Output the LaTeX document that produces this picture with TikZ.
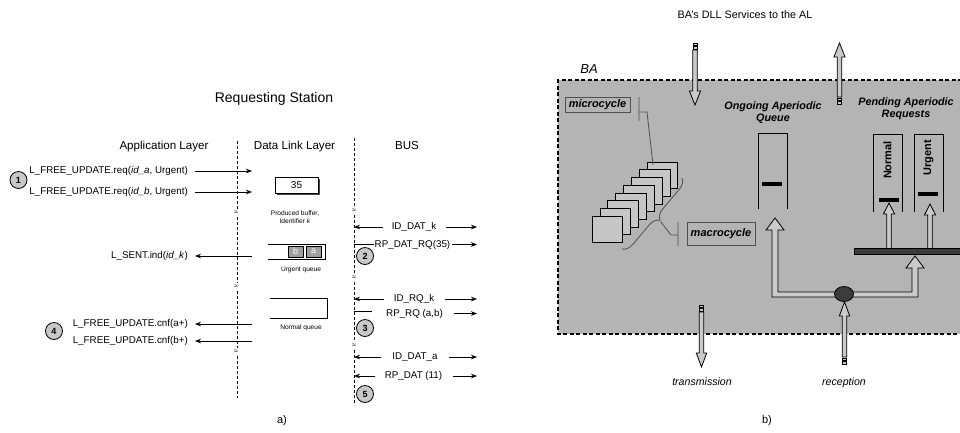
\documentclass[tikz,border=0pt]{standalone}
\usepackage{fontspec}
\setmainfont{Liberation Sans}
\usetikzlibrary{arrows.meta,decorations.pathreplacing,shapes.geometric}

\definecolor{bagray}{HTML}{B4B4B4}
\definecolor{stackgray}{HTML}{C6C6C6}
\definecolor{arrowgray}{HTML}{CACACA}
\definecolor{darkfill}{HTML}{3C3C3C}
\definecolor{stepgray}{HTML}{C8C8C8}
\definecolor{slotgray}{HTML}{A0A0A0}
\definecolor{wiregray}{HTML}{505050}

\newcommand\fsz[1]{\fontsize{#1}{#1}\selectfont}
% vertical block arrow: x, tail y, tip y, head-base y, shaft half width, head half width
\newcommand\vblock[6]{%
  \draw[blockarrow] ({#1-#5},#2) -- ({#1-#5},#4) -- ({#1-#6},#4) -- (#1,#3)
    -- ({#1+#6},#4) -- ({#1+#5},#4) -- ({#1+#5},#2) -- cycle;}
% two small tail segments behind a block arrow: x, tail y, direction (+1 down / -1 up)
\newcommand\tailmarks[3]{%
  \draw[blockarrow,line width=0.6pt] ({#1-2.2},{#2+#3*1}) rectangle ({#1+2.2},{#2+#3*3.4});
  \draw[blockarrow,line width=0.6pt] ({#1-2.2},{#2+#3*4.6}) rectangle ({#1+2.2},{#2+#3*7});}

\begin{document}
\begin{tikzpicture}[x=1pt,y=-1pt,
  hdr/.style={font=\fsz{11.6}, inner sep=0pt},
  msglbl/.style={font=\fsz{9.8}, inner sep=0pt},
  smallcap/.style={font=\fsz{6.6}, inner sep=0pt, align=center},
  msg/.style={line width=0.75pt, -{Stealth[length=6pt,width=4.6pt]}},
  plainline/.style={line width=0.75pt},
  layer/.style={line width=0.55pt, dash pattern=on 3pt off 2pt},
  brk/.style={font=\fsz{7}, inner sep=0.4pt, fill=white},
  stepno/.style={circle, draw, line width=0.8pt, fill=stepgray, minimum size=17pt,
    inner sep=0pt, font=\fsz{9}\bfseries},
  blockarrow/.style={draw=black, line width=0.8pt, fill=arrowgray, line join=miter},
  badash/.style={line width=1.1pt, dash pattern=on 4pt off 2.5pt},
  cyclebox/.style={draw=wiregray, line width=0.8pt, fill=bagray, inner sep=0pt,
    font=\fsz{11}\bfseries\itshape},
  frame/.style={draw=black, line width=0.8pt, fill=stackgray},
  qwall/.style={line width=0.8pt},
  qbar/.style={fill=black},
  slot/.style={draw, line width=0.7pt, fill=slotgray, minimum width=15pt, minimum height=11pt,
    inner sep=0pt, font=\fsz{9}, text=white},
  bhead/.style={font=\fsz{10.8}\bfseries\itshape, align=center, inner sep=0pt},
  vlabel/.style={font=\fsz{11}\bfseries, rotate=90, inner sep=0pt},
  ilabel/.style={font=\fsz{10.6}\itshape, inner sep=0pt},
  partlbl/.style={font=\fsz{11}, inner sep=0pt}
]
\useasboundingbox (0,0) rectangle (960,432);

%% ---------------- a) sequence of primitives ----------------
\node[font=\fsz{14}, inner sep=0pt] (station) at (274,99) {Requesting Station};
\node[hdr] (app) at (164,146) {Application Layer};
\node[hdr] (dll) at (294.5,146) {Data Link Layer};
\node[hdr] (bus) at (407,146) {BUS};

% layer boundaries, broken by time gaps
\draw[layer] (237,141) -- (237,209) (237,217) -- (237,283)
             (237,291) -- (237,348) (237,356) -- (237,398);
\draw[layer] (354,138) -- (354,207) (354,215) -- (354,274)
             (354,282) -- (354,342) (354,350) -- (354,405);
\node[brk] (g1) at (236,213) {≈};
\node[brk] (g2) at (236,287) {≈};
\node[brk] (g3) at (236,352) {≈};
\node[brk] (g4) at (354,211) {≈};
\node[brk] (g5) at (354,278) {≈};
\node[brk] (g6) at (354,346) {≈};

% application layer primitives
\coordinate (d1) at (252,171);
\coordinate (d2) at (252,192);
\coordinate (d3) at (195,256);
\coordinate (d4) at (195,324);
\coordinate (d5) at (195,341);
\node[msglbl, anchor=east] (req1) at (188,171) {L\_FREE\_UPDATE.req(\textit{id\_a}, Urgent)};
\node[msglbl, anchor=east] (req2) at (188,192) {L\_FREE\_UPDATE.req(\textit{id\_b}, Urgent)};
\node[msglbl, anchor=east] (sent) at (188,256) {L\_SENT.ind(\textit{id\_k})};
\node[msglbl, anchor=east] (cnf1) at (188,324) {L\_FREE\_UPDATE.cnf(a+)};
\node[msglbl, anchor=east] (cnf2) at (188,341) {L\_FREE\_UPDATE.cnf(b+)};
\draw[msg] ([xshift=7pt]req1.east) -- (d1);
\draw[msg] ([xshift=7pt]req2.east) -- (d2);
\draw[msg] (252,256) -- (d3);
\draw[msg] (252,324) -- (d4);
\draw[msg] (252,341) -- (d5);

% data link layer objects
\fill[gray!55!black] (277,179) rectangle (320,195);
\node[draw, line width=0.8pt, fill=white, minimum width=43pt, minimum height=16pt,
  inner sep=0pt, font=\fsz{10}] (buf) at (296.5,185) {35};
\node[smallcap] (bufcap) at (295,217) {Produced buffer,\\[1pt]Identifier \textit{k}};

\draw[qwall] (268,244) -- (325,244) -- (325,259) -- (268,259);
\node[slot] (slotb) at (295.5,251.5) {b};
\node[slot] (slota) at (313.5,251.5) {a};
\node[smallcap] (ucap) at (301,270) {Urgent queue};

\draw[qwall] (270,298) -- (327,298) -- (327,318) -- (270,318);
\node[smallcap] (ncap) at (301,328) {Normal queue};

% bus frames
\coordinate (e1) at (477,227);
\coordinate (e2) at (477,244.5);
\coordinate (e3) at (477,299);
\coordinate (e4) at (477,313.5);
\coordinate (e5) at (477,357);
\coordinate (e6) at (477,376);
\node[msglbl] (iddatk) at (414,227) {ID\_DAT\_k};
\draw[msg] ([xshift=-9pt]iddatk.west) -- (354,227);
\draw[msg] ([xshift=10pt]iddatk.east) -- (e1);

\node[msglbl] (rpdatrq) at (412.5,244.5) {RP\_DAT\_RQ(35)};
\draw[plainline] (354,244.5) -- ([xshift=-1pt]rpdatrq.west);
\draw[msg] ([xshift=1.5pt]rpdatrq.east) -- (e2);

\node[msglbl] (idrqk) at (414,299) {ID\_RQ\_k};
\draw[msg] ([xshift=-10pt]idrqk.west) -- (354,299);
\draw[msg] ([xshift=11pt]idrqk.east) -- (e3);

\node[msglbl] (rprq) at (414.5,313.5) {RP\_RQ (a,b)};
\draw[plainline] (354,311) -- (372,311);
\draw[msg] ([xshift=11pt]rprq.east) -- (e4);

\node[msglbl] (iddata) at (415,357) {ID\_DAT\_a};
\draw[msg] ([xshift=-11pt]iddata.west) -- (354,357);
\draw[msg] ([xshift=11pt]iddata.east) -- (e5);

\node[msglbl] (rpdat) at (413.5,376) {RP\_DAT (11)};
\draw[msg] ([xshift=-10pt]rpdat.west) -- (354,376);
\draw[msg] ([xshift=11pt]rpdat.east) -- (e6);

% step numbers
\node[stepno] (s1) at (18.5,180) {1};
\node[stepno] (s2) at (365,256) {2};
\node[stepno] (s3) at (365,328) {3};
\node[stepno] (s4) at (54,331) {4};
\node[stepno] (s5) at (365,394) {5};

\node[partlbl] (pa) at (282,421) {a)};

%% ---------------- b) BA services ----------------
\node[font=\fsz{10.8}, inner sep=0pt] (svc) at (745,15) {BA's DLL Services to the AL};

\fill[bagray] (558,80) rectangle (975,334);
\draw[badash] (975,80) -- (558,80) -- (558,334) -- (975,334);
\node[font=\fsz{13}\itshape, inner sep=0pt] (ba) at (589,69) {BA};

% micro / macro cycle
\node[cyclebox, minimum width=65pt, minimum height=15pt] (micro) at (597.5,104.5) {microcycle};
\node[cyclebox, minimum width=68pt, minimum height=23pt] (macro) at (721,233.5) {macrocycle};

\foreach \i in {7,6,...,0}{
  \draw[frame] ({592+7.9*\i},{216-7.7*\i}) rectangle ++(30.5,26.5);
}
\coordinate (stacktop) at (653,165);
\draw[wiregray, line width=0.8pt] (639,97) -- (639,121) (639,112) -- (647,112) -- (stacktop);
\draw[wiregray, line width=0.8pt, decorate, decoration={brace, amplitude=10.5pt}]
  (682,178) -- (622,249);
\draw[wiregray, line width=0.8pt] (660.5,221.5) -- (671,235) -- (678,235) (678,222) -- (678,246);

% aperiodic queues
\node[bhead] (ongo) at (773,112.5) {Ongoing Aperiodic\\[1.5pt]Queue};
\node[bhead] (pend) at (906,108.5) {Pending Aperiodic\\[1.5pt]Requests};

\draw[qwall] (758,209) -- (758,133) -- (787,133) -- (787,209);
\fill[qbar] (762,181.5) rectangle (782,185.5);

\draw[qwall] (873,212) -- (873,134) -- (902,134) -- (902,212);
\fill[qbar] (879,198) rectangle (899,202);
\node[vlabel] (norm) at (887.5,160) {Normal};

\draw[qwall] (914,212) -- (914,134) -- (943,134) -- (943,212);
\fill[qbar] (918,192) rectangle (938,196);
\node[vlabel] (urg) at (928.5,158) {Urgent};

% request dispatch
\vblock{889}{249}{203}{214}{2.2}{5.6}
\vblock{930}{249}{204}{215}{2.2}{5.6}
\draw[line width=0.8pt, fill=darkfill] (854,248) rectangle (975,254);

\draw[blockarrow] (772,297) -- (918,297) -- (918,268) -- (924,268) -- (915,256)
  -- (906,268) -- (912,268) -- (912,292) -- (778,292) -- (778,230) -- (784,230)
  -- (775,218) -- (766,230) -- (772,230) -- cycle;
\node[ellipse, draw, line width=0.8pt, fill=darkfill, minimum width=19pt,
  minimum height=15pt, inner sep=0pt] (split) at (844,294) {};

% service flows
\vblock{695}{50}{105}{91}{2.3}{5.6}
\tailmarks{695}{50}{-1}
\vblock{839.5}{97}{43}{57}{2.3}{5.6}
\tailmarks{839.5}{97}{1}
\vblock{701.5}{312}{367}{353}{2.3}{5.2}
\tailmarks{701.5}{312}{-1}
\vblock{844.5}{357}{302}{316}{2.3}{5.2}
\tailmarks{844.5}{357}{1}

\node[ilabel] (tx) at (702,382) {transmission};
\node[ilabel] (rx) at (844,383) {reception};

\node[partlbl] (pb) at (767,421) {b)};
\end{tikzpicture}
\end{document}
